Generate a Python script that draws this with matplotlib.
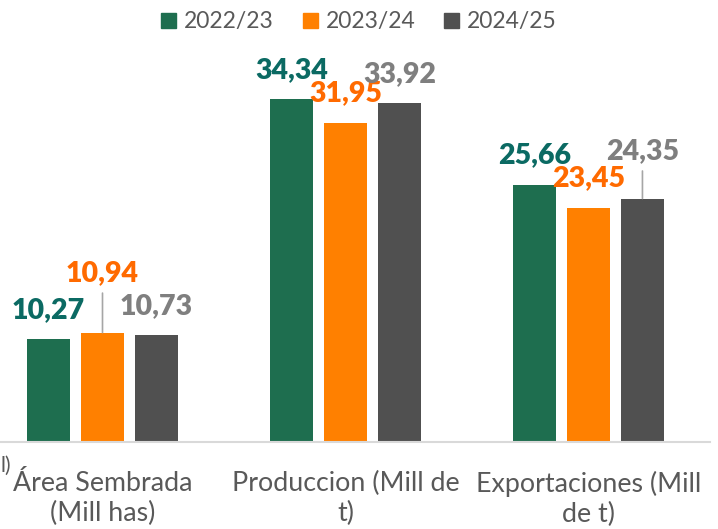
import numpy as np
import matplotlib.pyplot as plt
from matplotlib.patches import Patch

plt.rcParams['font.family'] = ['Lato', 'DejaVu Sans']

categories = ["Área Sembrada\n(Mill has)", "Produccion (Mill de\nt)", "Exportaciones (Mill\nde t)"]
seasons = ["2022/23", "2023/24", "2024/25"]
v_2223 = [10.27, 34.34, 25.66]
v_2324 = [10.94, 31.95, 23.45]
v_2425 = [10.73, 33.92, 24.35]

bar_colors = ["#1E6E4F", "#FF8000", "#505050"]
label_colors = ["#0B6A63", "#FF6A00", "#7F7F7F"]

fig = plt.figure(figsize=(7.18, 5.29), dpi=100)
ax = fig.add_axes([-19 / 718, 87 / 529, 729 / 718, 400 / 529])

x = np.arange(len(categories))
width = 0.177
step = 0.222
series = [v_2223, v_2324, v_2425]

# label height above bar top in pixels, and whether a leader line is drawn
offsets = {
    (0, 0): (29, False), (0, 1): (59, True), (0, 2): (29, False),
    (1, 0): (28, False), (1, 1): (29, False), (1, 2): (29, False),
    (2, 0): (30, False), (2, 1): (29, False), (2, 2): (47, True),
}

for j, vals in enumerate(series):
    pos = x + (j - 1) * step
    ax.bar(pos, vals, width, color=bar_colors[j], zorder=2)
    for i, v in enumerate(vals):
        dy, lead = offsets[(i, j)]
        ax.annotate(f"{v:.2f}".replace(".", ","), (pos[i], v),
                    xytext=(0, dy * 0.72), textcoords="offset points",
                    ha="center", va="center", fontsize=20.5, fontweight="heavy",
                    color=label_colors[j])
        if lead:
            ax.annotate("", (pos[i], v), xytext=(0, (dy - 19.5) * 0.72),
                        textcoords="offset points",
                        arrowprops=dict(arrowstyle="-", color="#A6A6A6", lw=1.2,
                                        shrinkA=0, shrinkB=0))

ax.set_xlim(-0.5, 2.5)
ax.set_ylim(0, 40)
ax.set_xticks(x)
ax.set_xticklabels(categories, fontsize=19.3, color="#595959", linespacing=1.22)
ax.tick_params(axis="x", length=0, pad=21)
ax.set_yticks([])
for s in ["top", "right", "left"]:
    ax.spines[s].set_visible(False)
ax.spines["bottom"].set_color("#D9D9D9")
ax.spines["bottom"].set_linewidth(1.5)

fig.text(0 / 718, 1 - 466 / 529, "l)", fontsize=15, color="#595959", va="center")

handles = [Patch(color=c) for c in bar_colors]
fig.legend(handles, seasons, loc="center", bbox_to_anchor=(0.5, 1 - 22 / 529), ncol=3,
           frameon=False, fontsize=16.5, labelcolor="#595959", handlelength=0.65,
           handleheight=0.65, handletextpad=0.35, columnspacing=1.27)

fig.savefig("out.png", dpi=100)
